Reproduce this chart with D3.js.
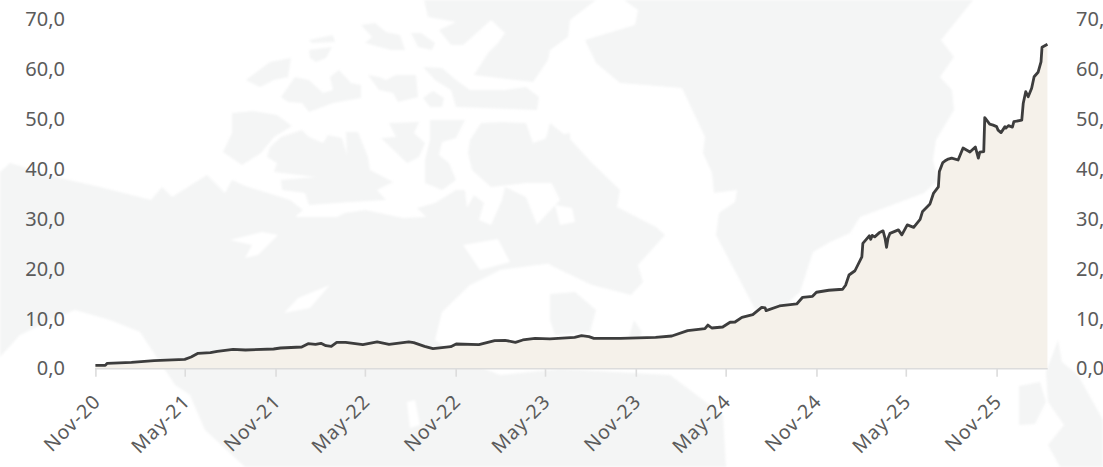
<!DOCTYPE html>
<html><head><meta charset="utf-8">
<script src="https://cdn.jsdelivr.net/npm/d3@7"></script>
<style>html,body{margin:0;padding:0;background:#fff;overflow:hidden}svg{display:block}
text{font-family:"Noto Sans",sans-serif;fill:#5b5b5b}</style></head><body>
<svg id="c" width="1103" height="467"></svg>
<script>
const startDate = "2020-11-01";
const dayOffsets = [0,20,24,73,119,181,194,208,233,247,279,304,361,375,418,431,446,457,467,478,489,507,542,571,595,635,645,667,684,720,731,777,809,830,851,866,891,921,971,985,1000,1010,1064,1135,1168,1200,1235,1241,1249,1271,1286,1296,1310,1332,1350,1357,1359,1386,1421,1433,1453,1461,1486,1514,1520,1527,1539,1553,1555,1568,1571,1574,1579,1588,1596,1600,1603,1606,1610,1627,1634,1645,1658,1671,1676,1691,1698,1708,1710,1717,1721,1728,1735,1748,1758,1772,1783,1789,1792,1800,1802,1812,1819,1826,1829,1835,1843,1845,1850,1858,1861,1877,1880,1885,1890,1897,1902,1910,1916,1918,1929];
const values = [0.63,0.63,1.04,1.24,1.57,1.84,2.3,3.05,3.17,3.45,3.85,3.71,3.91,4.11,4.31,4.98,4.85,5.05,4.57,4.45,5.25,5.25,4.78,5.32,4.85,5.32,5.18,4.45,3.97,4.37,4.91,4.78,5.58,5.65,5.25,5.72,6.05,5.92,6.25,6.58,6.38,6.05,6.05,6.25,6.52,7.58,7.98,8.72,8.12,8.32,9.27,9.32,10.27,10.79,12.27,12.14,11.6,12.54,12.94,14.28,14.48,15.29,15.69,15.89,16.69,18.75,19.6,22.4,25.1,26.6,25.9,26.7,26.4,27.2,27.6,26.1,24.3,26.1,27.1,27.8,26.8,28.8,28.3,29.9,31.5,33.0,35.1,36.4,39.5,41.3,41.6,42.0,42.2,41.8,44.2,43.4,44.4,42.2,43.4,43.5,50.3,49.0,48.8,48.5,47.8,47.3,48.5,48.2,48.7,48.4,49.5,49.8,53.2,55.5,54.5,56.2,58.5,59.4,61.5,64.4,65.0];
const yTicks = [0,10,20,30,40,50,60,70];
const xTicks = ["2020-11-01","2021-05-01","2021-11-01","2022-05-01","2022-11-01","2023-05-01","2023-11-01","2024-05-01","2024-11-01","2025-05-01","2025-11-01"];

// faint decorative map behind the chart
const landShapes = [
 "M0,172L10,163L60,178L100,187L151,200L162,187L172,197L207,175L225,193L232,180L245,186L290,200L303,210L295,217L337,217L345,213L365,210L403,218L426,217L417,208L435,203L456,190L465,190L467,208L474,195L484,203L479,220L491,225L502,200L505,187L526,197L540,232L560,262L500,270L470,285L442,312L435,340L467,362L500,375L560,369L670,375L723,415L726,467L245,467L205,430L190,395L175,385L140,332L110,320L75,310L50,320L20,335L0,357Z",
 "M232,113L253,111L277,115L292,126L274,137L261,153L242,165L223,152L232,133Z",
 "M270,147L281,137L302,130L309,137L323,143L328,135L342,138L347,155L346,132L358,132L368,157L370,170L393,182L377,190L386,200L351,202L309,205L305,193L282,190L281,180L316,177L274,172L277,163L267,157Z",
 "M389,123L419,122L414,133L425,143L419,157L407,163L381,138L396,137Z",
 "M430,120L465,120L456,138L442,142L439,155L449,163L456,180L442,190L425,183L425,160L430,140Z",
 "M470,140L481,123L502,122L526,123L533,143L550,137L570,133L572,183L526,183L491,187L472,170L468,153Z",
 "M246,80L270,62L291,58L288,77L274,80L260,87Z",
 "M281,97L295,77L309,80L323,93L333,90L330,77L339,70L351,83L361,85L361,98L333,103L309,112L302,103L288,102Z",
 "M368,75L379,77L386,80L396,75L416,75L418,97L398,102L393,93L379,90Z",
 "M423,67L442,68L456,80L470,90L505,90L526,87L539,97L537,110L456,107L451,90L435,80Z",
 "M423,98L433,91L444,98L442,107L430,107Z",
 "M361,25L375,23L386,32L400,35L405,50L391,50L365,43L372,37Z",
 "M411,33L421,33L435,43L432,50L418,47Z",
 "M310,58L309,50L332,47L326,58L316,62Z",
 "M309,40L333,35L335,42L312,43Z",
 "M424,0L596,0L570,20L568,37L550,50L548,60L533,82L474,75L488,53L498,43L505,33L491,20L480,30L463,45L451,45L439,30L456,22L428,17Z",
 "M624,0L973,0L941,40L954,57L940,77L952,90L954,110L936,140L933,160L938,180L924,193L860,217L850,233L830,242L813,252L800,292L783,307L755,309L716,235L719,213L735,202L737,190L714,193L712,173L703,153L705,137L682,88L620,83L596,63L585,40L635,25L638,10Z",
 "M550,123L571,140L592,163L620,190L617,207L656,227L665,235L638,265L643,282L631,295L592,285L550,265L530,232L560,200L540,160Z",
 "M550,294L575,292L596,310L590,332L555,335L550,320Z",
 "M634,320L642,332L636,345L628,340Z",
 "M1019,386L1040,382L1046,402L1035,424L1019,425Z",
 "M1058,340L1062,362L1078,375L1103,420L1103,467L1060,467L1048,445L1064,425L1048,402L1046,372Z"
];
const waterShapes = [
 "M230,240L262,232L278,235L258,255L245,258L252,245Z",
 "M284,313L298,298L330,285L310,308Z",
 "M463,245L498,239L510,262L480,270Z",
 "M407,402L415,400L420,425L410,428Z",
 "M555,205L572,208L575,222L560,225Z"
];

const x = d3.scaleUtc().domain([new Date(xTicks[0]), new Date(xTicks[10])]).range([95.4, 996.6]);
const y = d3.scaleLinear().domain([0,70]).range([368.5,19.4]);
const data = dayOffsets.map((d,i)=>({date:d3.utcDay.offset(new Date(startDate),d),v:values[i]}));
const svg = d3.select("#c");

const bg = svg.append("g").style("filter","blur(0.8px)");
bg.selectAll("path.l").data(landShapes).join("path").attr("class","l").attr("d",d=>d).attr("fill","#f4f5f5");
bg.selectAll("path.w").data(waterShapes).join("path").attr("class","w").attr("d",d=>d).attr("fill","#ffffff");

svg.append("path").datum(data).attr("fill","#f5f1ea")
  .attr("d",d3.area().x(d=>x(d.date)).y0(y(0)).y1(d=>y(d.v)));
svg.append("path").datum(data).attr("fill","none").attr("stroke","#3d3d3d").attr("stroke-width",2.8).attr("stroke-linejoin","round")
  .attr("d",d3.line().x(d=>x(d.date)).y(d=>y(d.v)));

const fmt = v=>v.toFixed(1).replace(".",",");
const xAxis = svg.append("g").attr("transform",`translate(0,${y(0)+0.2})`)
  .call(d3.axisBottom(x).tickValues(xTicks.map(d=>new Date(d))).tickFormat(d3.utcFormat("%b-%y")).tickSize(8).tickSizeOuter(0));
xAxis.select(".domain").attr("stroke","#dcdcdc").attr("stroke-width",1.6).attr("d",`M95,0H1047.7`);
xAxis.selectAll(".tick line").attr("stroke","#dcdcdc").attr("stroke-width",1.6);
xAxis.selectAll(".tick text").attr("font-size",19.5).attr("letter-spacing",1).attr("text-anchor","end").attr("dy",0).attr("y",0)
  .attr("transform","translate(6,34) rotate(-45)").style("font-family",'"Noto Sans",sans-serif').style("fill","#5b5b5b");

const left = svg.append("g").attr("transform","translate(65,0)").call(d3.axisLeft(y).tickValues(yTicks).tickFormat(fmt).tickSize(0).tickPadding(0));
const right = svg.append("g").attr("transform","translate(1076,0)").call(d3.axisRight(y).tickValues(yTicks).tickFormat(fmt).tickSize(0).tickPadding(0));
[left,right].forEach(a=>{a.select(".domain").remove();
  a.selectAll("text").attr("font-size",20).style("font-family",'"Noto Sans",sans-serif').style("fill","#5b5b5b");});
</script></body></html>
